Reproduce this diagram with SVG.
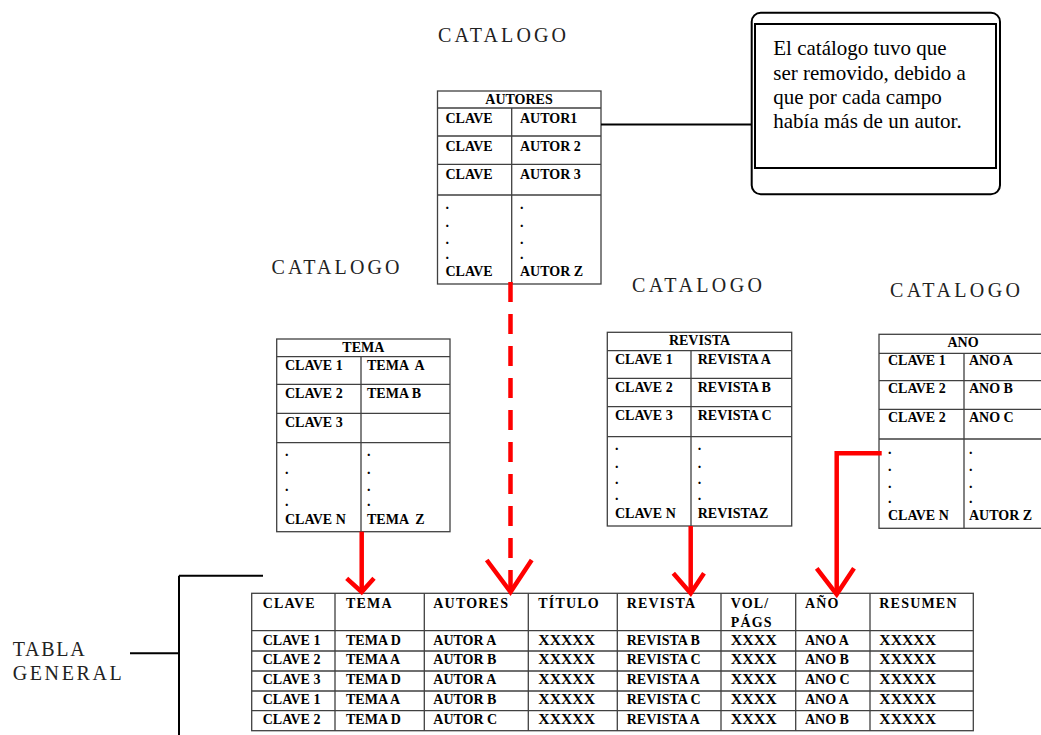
<svg xmlns="http://www.w3.org/2000/svg" width="1041" height="735" viewBox="0 0 1041 735">
<style>
.t{font-family:"Liberation Serif",serif;font-weight:bold;font-size:14px;fill:#000}
.hd{font-family:"Liberation Serif",serif;font-weight:bold;font-size:14px;fill:#000;letter-spacing:1.2px}
.c{text-anchor:middle}
.cat{font-family:"Liberation Serif",serif;font-size:20px;fill:#222}
.note{font-family:"Liberation Serif",serif;font-size:21px;fill:#000}
.grid{fill:none;stroke:#404040;stroke-width:1.3}
.blk{fill:none;stroke:#000;stroke-width:2}
.red{fill:none;stroke:#ff0000;stroke-width:4.5}
</style>
<rect width="1041" height="735" fill="#fff"/>

<g id="labels">
<text class="cat" x="438" y="41.5" textLength="128" lengthAdjust="spacing">CATALOGO</text>
<text class="cat" x="271.5" y="274" textLength="128" lengthAdjust="spacing">CATALOGO</text>
<text class="cat" x="632" y="292" textLength="130" lengthAdjust="spacing">CATALOGO</text>
<text class="cat" x="890" y="297" textLength="130" lengthAdjust="spacing">CATALOGO</text>
<text class="cat" x="12.7" y="655.7" font-size="21" textLength="72" lengthAdjust="spacing">TABLA</text>
<text class="cat" x="12.7" y="680" font-size="21" textLength="109" lengthAdjust="spacing">GENERAL</text>
</g>

<g id="callout">
<rect class="blk" x="751.7" y="12.7" width="248.3" height="181.6" rx="9"/>
<rect class="blk" x="755" y="24" width="241" height="144"/>
<text class="note" x="773.3" y="54.5">El catálogo tuvo que</text>
<text class="note" x="773.3" y="79.5">ser removido, debido a</text>
<text class="note" x="773.3" y="103.5">que por cada campo</text>
<text class="note" x="773.3" y="128">había más de un autor.</text>
</g>

<g id="autores">
<rect class="grid" x="437.5" y="91" width="163.5" height="193"/>
<path class="grid" d="M437.5 108H601M437.5 136H601M437.5 164.3H601M437.5 195H601M511.7 108V284"/>
<text class="t c" x="519" y="104">AUTORES</text>
<text class="t" x="445.5" y="122.5">CLAVE</text><text class="t" x="520" y="122.5">AUTOR1</text>
<text class="t" x="445.5" y="150.5">CLAVE</text><text class="t" x="520" y="150.5">AUTOR 2</text>
<text class="t" x="445.5" y="179">CLAVE</text><text class="t" x="520" y="179">AUTOR 3</text>
<text class="t" x="445.5" y="209">.</text><text class="t" x="520" y="209">.</text>
<text class="t" x="445.5" y="226.5">.</text><text class="t" x="520" y="226.5">.</text>
<text class="t" x="445.5" y="244">.</text><text class="t" x="520" y="244">.</text>
<text class="t" x="445.5" y="259">.</text><text class="t" x="520" y="259">.</text>
<text class="t" x="445.5" y="276">CLAVE</text><text class="t" x="520" y="276">AUTOR Z</text>
</g>

<g id="tema">
<rect class="grid" x="276.7" y="339" width="173.3" height="192.7"/>
<path class="grid" d="M276.7 356.7H450M276.7 384.3H450M276.7 413.3H450M276.7 442.7H450M361 356.7V531.7"/>
<text class="t c" x="363.3" y="351.7">TEMA</text>
<text class="t" x="285" y="370">CLAVE 1</text><text class="t" x="367" y="370" xml:space="preserve">TEMA  A</text>
<text class="t" x="285" y="398.3">CLAVE 2</text><text class="t" x="367" y="398.3">TEMA B</text>
<text class="t" x="285" y="426.7">CLAVE 3</text>
<text class="t" x="285" y="456">.</text><text class="t" x="367" y="456">.</text>
<text class="t" x="285" y="473.5">.</text><text class="t" x="367" y="473.5">.</text>
<text class="t" x="285" y="491">.</text><text class="t" x="367" y="491">.</text>
<text class="t" x="285" y="506">.</text><text class="t" x="367" y="506">.</text>
<text class="t" x="285" y="524.3">CLAVE N</text><text class="t" x="367" y="524.3" xml:space="preserve">TEMA  Z</text>
</g>

<g id="revista">
<rect class="grid" x="607.3" y="332.3" width="184.4" height="193.7"/>
<path class="grid" d="M607.3 350.7H791.7M607.3 378.3H791.7M607.3 406.7H791.7M607.3 436.7H791.7M691 350.7V526"/>
<text class="t c" x="699.5" y="345">REVISTA</text>
<text class="t" x="615" y="364">CLAVE 1</text><text class="t" x="697.7" y="364">REVISTA A</text>
<text class="t" x="615" y="391.7">CLAVE 2</text><text class="t" x="697.7" y="391.7">REVISTA B</text>
<text class="t" x="615" y="420">CLAVE 3</text><text class="t" x="697.7" y="420">REVISTA C</text>
<text class="t" x="615" y="450">.</text><text class="t" x="697.7" y="450">.</text>
<text class="t" x="615" y="467.5">.</text><text class="t" x="697.7" y="467.5">.</text>
<text class="t" x="615" y="484">.</text><text class="t" x="697.7" y="484">.</text>
<text class="t" x="615" y="500">.</text><text class="t" x="697.7" y="500">.</text>
<text class="t" x="615" y="518.3">CLAVE N</text><text class="t" x="697.7" y="518.3">REVISTAZ</text>
</g>

<g id="ano">
<rect class="grid" x="879" y="334.3" width="168" height="194"/>
<path class="grid" d="M879 353.3H1047M879 380.7H1047M879 409.3H1047M879 439H1047M964 353.3V528.3"/>
<text class="t c" x="963" y="347">ANO</text>
<text class="t" x="888" y="365">CLAVE 1</text><text class="t" x="969" y="365">ANO A</text>
<text class="t" x="888" y="393.3">CLAVE 2</text><text class="t" x="969" y="393.3">ANO B</text>
<text class="t" x="888" y="421.7">CLAVE 2</text><text class="t" x="969" y="421.7">ANO C</text>
<text class="t" x="888" y="453.5">.</text><text class="t" x="969" y="453.5">.</text>
<text class="t" x="888" y="471">.</text><text class="t" x="969" y="471">.</text>
<text class="t" x="888" y="488">.</text><text class="t" x="969" y="488">.</text>
<text class="t" x="888" y="503">.</text><text class="t" x="969" y="503">.</text>
<text class="t" x="888" y="520">CLAVE N</text><text class="t" x="969" y="520">AUTOR Z</text>
</g>

<g id="tabla-general">
<rect class="grid" x="251.7" y="593.3" width="721.6" height="137.4"/>
<path class="grid" d="M251.7 630.7H973.3M251.7 651H973.3M251.7 671H973.3M251.7 691H973.3M251.7 710.7H973.3M335 593.3V730.7M424.3 593.3V730.7M528.3 593.3V730.7M617.3 593.3V730.7M721 593.3V730.7M795.7 593.3V730.7M870 593.3V730.7"/>
<text class="hd" x="262.7" y="607.7">CLAVE</text>
<text class="hd" x="346" y="607.7">TEMA</text>
<text class="hd" x="433.3" y="607.7">AUTORES</text>
<text class="hd" x="538.3" y="607.7">TÍTULO</text>
<text class="hd" x="626.7" y="607.7">REVISTA</text>
<text class="hd" x="730.7" y="607.7">VOL/</text>
<text class="hd" x="730.7" y="626.7">PÁGS</text>
<text class="hd" x="805" y="607.7">AÑO</text>
<text class="hd" x="879.3" y="607.7">RESUMEN</text>

<g class="t">
<text x="262.7" y="645">CLAVE 1</text><text x="346" y="645">TEMA D</text><text x="433.3" y="645">AUTOR A</text><text x="538.3" y="645" textLength="56.7" lengthAdjust="spacingAndGlyphs">XXXXX</text><text x="626.7" y="645">REVISTA B</text><text x="730.7" y="645" textLength="46" lengthAdjust="spacingAndGlyphs">XXXX</text><text x="805" y="645">ANO A</text><text x="879.3" y="645" textLength="56.7" lengthAdjust="spacingAndGlyphs">XXXXX</text>
<text x="262.7" y="664.3">CLAVE 2</text><text x="346" y="664.3">TEMA A</text><text x="433.3" y="664.3">AUTOR B</text><text x="538.3" y="664.3" textLength="56.7" lengthAdjust="spacingAndGlyphs">XXXXX</text><text x="626.7" y="664.3">REVISTA C</text><text x="730.7" y="664.3" textLength="46" lengthAdjust="spacingAndGlyphs">XXXX</text><text x="805" y="664.3">ANO B</text><text x="879.3" y="664.3" textLength="56.7" lengthAdjust="spacingAndGlyphs">XXXXX</text>
<text x="262.7" y="684">CLAVE 3</text><text x="346" y="684">TEMA D</text><text x="433.3" y="684">AUTOR A</text><text x="538.3" y="684" textLength="56.7" lengthAdjust="spacingAndGlyphs">XXXXX</text><text x="626.7" y="684">REVISTA A</text><text x="730.7" y="684" textLength="46" lengthAdjust="spacingAndGlyphs">XXXX</text><text x="805" y="684">ANO C</text><text x="879.3" y="684" textLength="56.7" lengthAdjust="spacingAndGlyphs">XXXXX</text>
<text x="262.7" y="704">CLAVE 1</text><text x="346" y="704">TEMA A</text><text x="433.3" y="704">AUTOR B</text><text x="538.3" y="704" textLength="56.7" lengthAdjust="spacingAndGlyphs">XXXXX</text><text x="626.7" y="704">REVISTA C</text><text x="730.7" y="704" textLength="46" lengthAdjust="spacingAndGlyphs">XXXX</text><text x="805" y="704">ANO A</text><text x="879.3" y="704" textLength="56.7" lengthAdjust="spacingAndGlyphs">XXXXX</text>
<text x="262.7" y="724">CLAVE 2</text><text x="346" y="724">TEMA D</text><text x="433.3" y="724">AUTOR C</text><text x="538.3" y="724" textLength="56.7" lengthAdjust="spacingAndGlyphs">XXXXX</text><text x="626.7" y="724">REVISTA A</text><text x="730.7" y="724" textLength="46" lengthAdjust="spacingAndGlyphs">XXXX</text><text x="805" y="724">ANO B</text><text x="879.3" y="724" textLength="56.7" lengthAdjust="spacingAndGlyphs">XXXXX</text>
</g>
</g>

<g id="connectors">
<path class="blk" d="M601 124.5H752"/>
<path class="blk" d="M179 575.7V735M179 575.7H263M130 653.3H179"/>
<path class="red" d="M361.7 531.7V591"/>
<path class="red" d="M346.7 578.3L361.7 592L374 578.3"/>
<path class="red" d="M510.5 282V590" stroke-dasharray="20 12"/>
<path class="red" d="M486.7 560L510.5 592L531.7 560"/>
<path class="red" d="M690.7 526V592"/>
<path class="red" d="M673.3 573.3L690.7 593.3L704 573.3"/>
<path class="red" d="M881.7 453.3H836.7V593"/>
<path class="red" d="M816.7 568.3L836.7 594.3L854 568.3"/>
</g>
</svg>
